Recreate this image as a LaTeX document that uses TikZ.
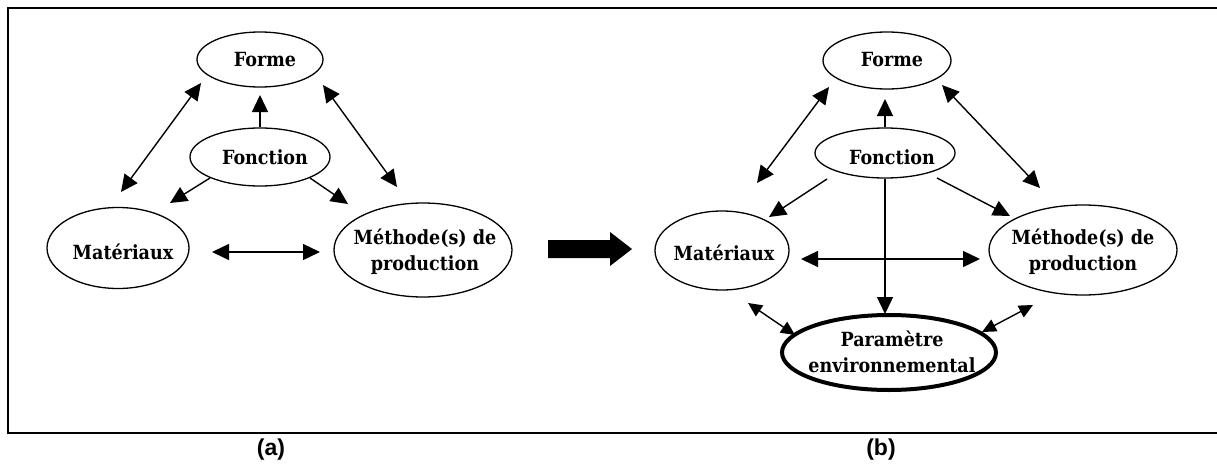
\documentclass[tikz,border=0pt]{standalone}
\usepackage{fontspec}
\newfontfamily\labfont{DejaVu Serif Condensed}
\newfontfamily\capfont{Liberation Sans}
\usetikzlibrary{shapes.geometric,arrows.meta}
\tikzset{
  ell/.style={draw, ellipse, line width=1.3pt, inner sep=0pt},
  txt/.style={inner sep=0pt, align=center,
    font=\labfont\bfseries\fontsize{19.5}{26}\selectfont},
  arr/.style={line width=1.4pt, -{Triangle[length=17pt,width=16pt]}},
  dbl/.style={line width=1.4pt, {Triangle[length=17pt,width=16pt]}-{Triangle[length=17pt,width=16pt]}},
  sdbl/.style={line width=1.4pt, {Triangle[length=14pt,width=13pt]}-{Triangle[length=14pt,width=13pt]}},
  caption/.style={font=\capfont\bfseries\fontsize{23}{26}\selectfont}
}
\begin{document}
\begin{tikzpicture}[x=1pt,y=-1pt]
\useasboundingbox (0,0) rectangle (1217,463);
\fill[white] (0,0) rectangle (1217,463);
% frame
\draw[line width=2pt] (1218,8) -- (8,8) -- (8,433) -- (1218,433);
% ---------- (a) ----------
\node[ell, minimum width=126pt, minimum height=55pt] (fA) at (260,59.5) {};
\node[ell, minimum width=140pt, minimum height=58pt] (fcA) at (260,157) {};
\node[ell, minimum width=142pt, minimum height=81pt] (mA) at (118,248) {};
\node[ell, minimum width=178pt, minimum height=94pt] (pA) at (423,250) {};
\node[txt] (fAt) at (265,60) {Forme};
\node[txt] (fcAt) at (265,157) {Fonction};
\node[txt] (mAt) at (123,252) {Matériaux};
\node[txt] (pAt) at (425,252) {Méthode(s) de\\production};
\coordinate (a1) at (201,83);  \coordinate (a2) at (121,192);
\coordinate (a3) at (260,95);
\coordinate (a4) at (170,203); \coordinate (a5) at (348,204);
\coordinate (a6) at (323,85);  \coordinate (a7) at (397,187);
\coordinate (a8) at (212,252); \coordinate (a9) at (320,252);
\draw[dbl] (a1) -- (a2);
\draw[arr] (fcA.north) -- (a3);
\draw[arr] (fcA.south west) -- (a4);
\draw[arr] (fcA.south east) -- (a5);
\draw[dbl] (a6) -- (a7);
\draw[dbl] (a8) -- (a9);
% block arrow
\fill (548,240) -- (610,240) -- (610,232) -- (632,249) -- (610,266) -- (610,258) -- (548,258) -- cycle;
% ---------- (b) ----------
\node[ell, minimum width=128pt, minimum height=57pt] (fB) at (887,60.5) {};
\node[ell, minimum width=140pt, minimum height=50pt] (fcB) at (885,153) {};
\node[ell, minimum width=134pt, minimum height=79pt] (mB) at (722,250.5) {};
\node[ell, minimum width=188pt, minimum height=90pt] (pB) at (1083,250) {};
\node[ell, line width=4pt, minimum width=214pt, minimum height=75pt] (eB) at (889,352.5) {};
\node[txt] (fBt) at (892,60) {Forme};
\node[txt] (fcBt) at (892,157) {Fonction};
\node[txt] (mBt) at (724,253) {Matériaux};
\node[txt] (pBt) at (1083,252) {Méthode(s) de\\production};
\node[txt] (eBt) at (892,352) {Paramètre\\environnemental};
\coordinate (b1) at (829,87);  \coordinate (b2) at (757,183);
\coordinate (b3) at (885,99);
\coordinate (b4s) at (827,179); \coordinate (b4) at (769,217);
\coordinate (b5s) at (937,178); \coordinate (b5) at (1010,216);
\coordinate (b6) at (942,85);  \coordinate (b7) at (1040,188);
\coordinate (b8) at (885,314);
\coordinate (b9) at (801,259); \coordinate (b10) at (980,259);
\coordinate (b11) at (748,303); \coordinate (b12) at (795,335);
\coordinate (b13) at (1033,305); \coordinate (b14) at (982,332);
\draw[dbl] (b1) -- (b2);
\draw[arr] (fcB.north) -- (b3);
\draw[arr] (b4s) -- (b4);
\draw[arr] (b5s) -- (b5);
\draw[dbl] (b6) -- (b7);
\draw[arr] (fcB.south) -- (b8);
\draw[dbl] (b9) -- (b10);
\draw[sdbl] (b11) -- (b12);
\draw[sdbl] (b13) -- (b14);
% captions
\node[caption] (ca) at (271,450) {(a)};
\node[caption] (cb) at (881,450) {(b)};
\end{tikzpicture}
\end{document}
